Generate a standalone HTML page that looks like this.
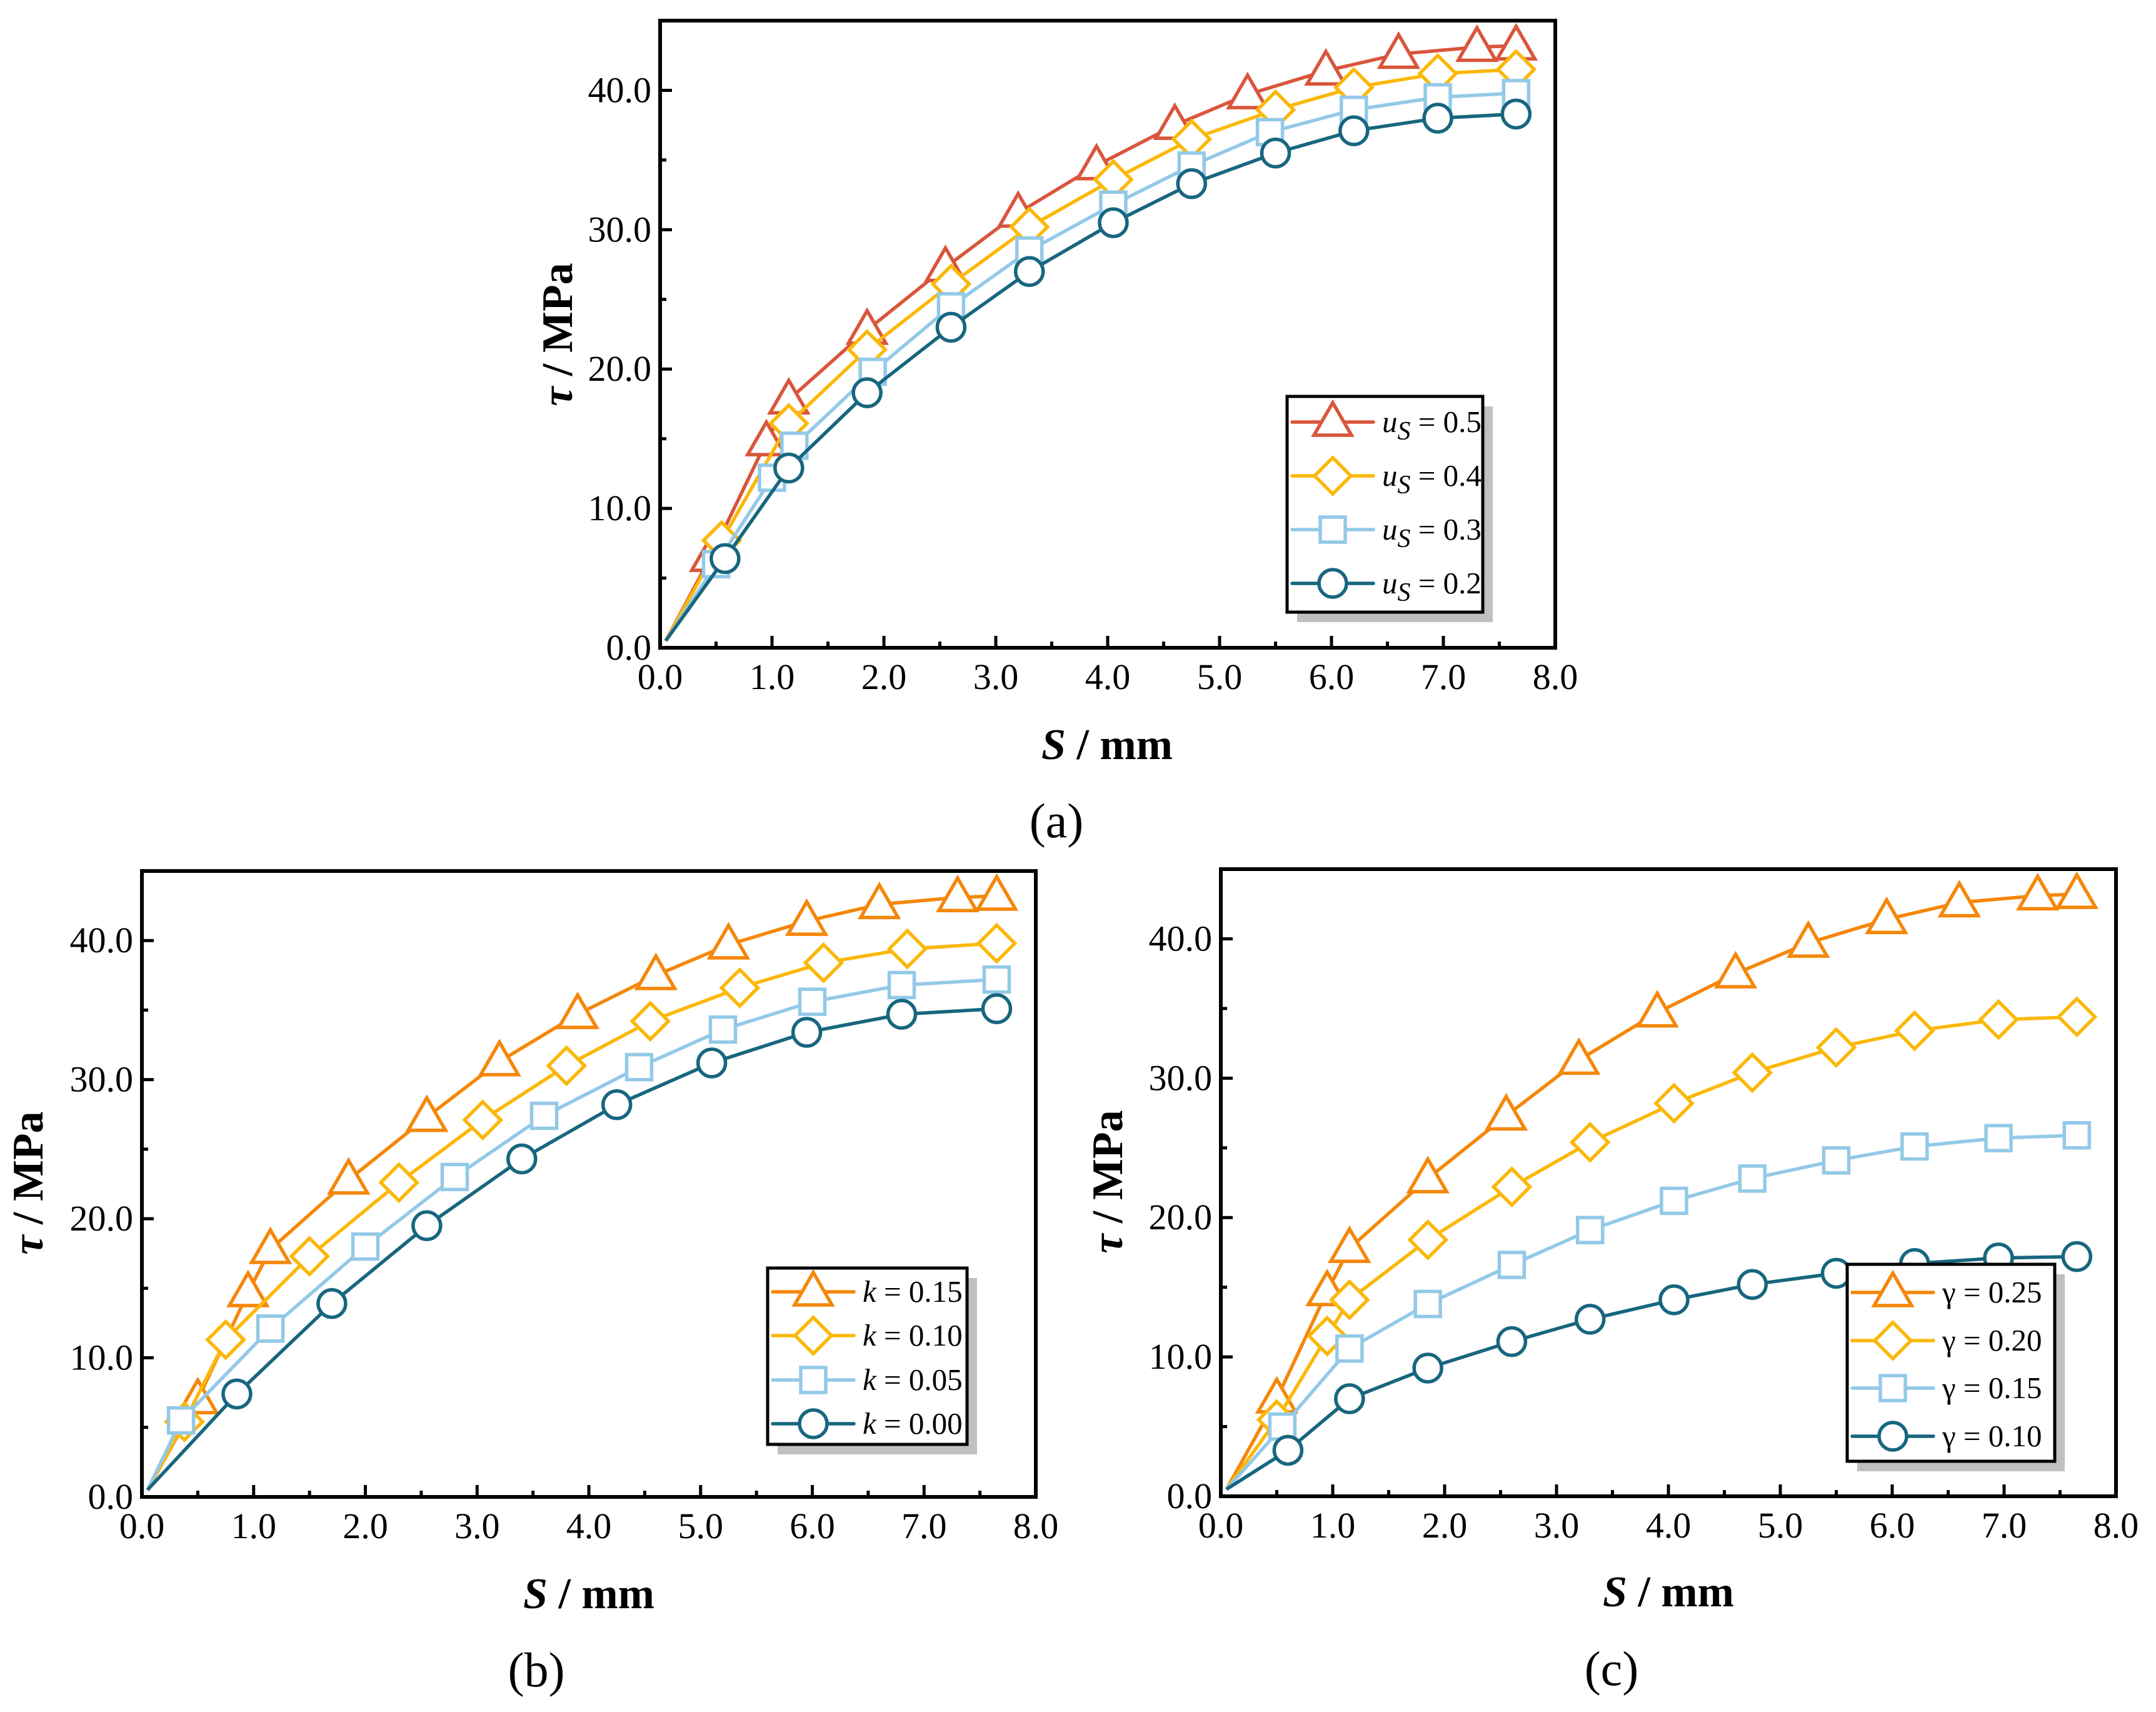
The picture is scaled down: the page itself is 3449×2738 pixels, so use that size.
<!DOCTYPE html>
<html><head><meta charset="utf-8"><style>
html,body{margin:0;padding:0;background:#fff}
svg{display:block}
text{font-family:"Liberation Serif","Times New Roman",serif}
</style></head><body>
<svg id="fig" width="3449" height="2738" viewBox="0 0 3449 2738" xmlns="http://www.w3.org/2000/svg"></svg>
<script>
// ---- data (a) ----
const aX1=[0.05,0.45,0.95,1.15,1.85,2.55,3.2,3.9,4.6,5.25,5.95,6.6,7.3,7.65];
const aY1=[0.5,6.5,14.8,17.8,22.8,27.3,31.2,34.6,37.5,39.7,41.4,42.6,43.1,43.2];
const aX2=[0.05,0.55,1.15,1.85,2.6,3.3,4.05,4.75,5.5,6.2,6.95,7.65];
const aY2=[0.5,7.7,16.1,21.4,26.1,30.2,33.6,36.5,38.6,40.2,41.2,41.5];
const aX3=[0.05,0.5,1.0,1.2,1.9,2.6,3.3,4.05,4.75,5.45,6.2,6.95,7.65];
const aY3=[0.5,6.0,12.2,14.5,19.8,24.5,28.5,31.8,34.6,37.0,38.6,39.5,39.8];
const aX4=[0.05,0.58,1.15,1.85,2.6,3.3,4.05,4.75,5.5,6.2,6.95,7.65];
const aY4=[0.5,6.4,12.9,18.3,23.0,27.0,30.5,33.3,35.5,37.1,38.0,38.3];
// ---- data (b) ----
const bX1=[0.05,0.5,0.95,1.15,1.85,2.55,3.2,3.9,4.6,5.25,5.95,6.6,7.3,7.65];
const bY1=[0.5,7.0,14.7,17.8,22.8,27.3,31.3,34.7,37.5,39.7,41.4,42.6,43.1,43.2];
const bX2=[0.05,0.38,0.75,1.5,2.3,3.05,3.8,4.55,5.35,6.1,6.85,7.65];
const bY2=[0.5,5.4,11.3,17.3,22.6,27.1,31.0,34.2,36.6,38.4,39.4,39.8];
const bX3=[0.05,0.35,1.15,2.0,2.8,3.6,4.45,5.2,6.0,6.8,7.65];
const bY3=[0.5,5.5,12.1,18.0,23.0,27.4,30.9,33.6,35.6,36.8,37.2];
const bX4=[0.05,0.85,1.7,2.55,3.4,4.25,5.1,5.95,6.8,7.65];
const bY4=[0.5,7.4,13.9,19.5,24.3,28.2,31.2,33.4,34.7,35.1];
// ---- data (c) ----
const cX1=[0.05,0.5,0.95,1.15,1.85,2.55,3.2,3.9,4.6,5.25,5.95,6.6,7.3,7.65];
const cY1=[0.5,7.0,14.7,17.8,22.8,27.3,31.3,34.7,37.5,39.7,41.4,42.6,43.1,43.2];
const cX2=[0.05,0.5,0.95,1.15,1.85,2.6,3.3,4.05,4.75,5.5,6.2,6.95,7.65];
const cY2=[0.5,5.5,11.5,14.1,18.4,22.2,25.4,28.2,30.4,32.2,33.4,34.2,34.4];
const cX3=[0.05,0.55,1.15,1.85,2.6,3.3,4.05,4.75,5.5,6.2,6.95,7.65];
const cY3=[0.5,5.0,10.6,13.8,16.6,19.1,21.2,22.8,24.1,25.1,25.7,25.9];
const cX4=[0.05,0.6,1.15,1.85,2.6,3.3,4.05,4.75,5.5,6.2,6.95,7.65];
const cY4=[0.5,3.3,7.0,9.2,11.1,12.7,14.1,15.2,16.0,16.7,17.1,17.2];
const xTicks=["0.0","1.0","2.0","3.0","4.0","5.0","6.0","7.0","8.0"];
const yTicks=["0.0","10.0","20.0","30.0","40.0"];
const aLegend=["0.5","0.4","0.3","0.2"];
const bLegend=["0.15","0.10","0.05","0.00"];
const cLegend=["0.25","0.20","0.15","0.10"];

const NS="http://www.w3.org/2000/svg";
const svg=document.getElementById('fig');
function mk(tag,attrs,parent){const e=document.createElementNS(NS,tag);for(const k in attrs)e.setAttribute(k,attrs[k]);(parent||svg).appendChild(e);return e;}
const SW=5.5;
function marker(g,type,cx,cy,col){
  let e;
  if(type==='tri'){e=mk('polygon',{points:`${cx},${cy-31} ${cx-30},${cy+21} ${cx+30},${cy+21}`,fill:'#fff',stroke:col,'stroke-width':SW},g);}
  else if(type==='dia'){e=mk('polygon',{points:`${cx},${cy-29} ${cx+29},${cy} ${cx},${cy+29} ${cx-29},${cy}`,fill:'#fff',stroke:col,'stroke-width':SW},g);}
  else if(type==='sq'){e=mk('rect',{x:cx-20,y:cy-20,width:40,height:40,fill:'#fff',stroke:col,'stroke-width':SW},g);}
  else {e=mk('circle',{cx:cx,cy:cy,r:22,fill:'#fff',stroke:col,'stroke-width':SW},g);}
  
  
}

function panel(P){
  const g=mk('g',{});
  
  
  const sx=v=>P.L+(P.R-P.L)*v/8, sy=v=>P.B-(P.B-P.T)*v/45;
  P.series.forEach((s,i)=>{
    const sg=mk('g',{},g);
    
    
    const pts=s.x.map((v,j)=>sx(v)+','+sy(s.y[j])).join(' ');
    const pl=mk('polyline',{points:pts,fill:'none',stroke:s.col,'stroke-width':SW,'stroke-linejoin':'round'},sg);
    
    
    s.x.forEach((v,j)=>{ if(j>0) marker(sg,s.m,sx(v),sy(s.y[j]),s.col); });
  });
  const fr=mk('rect',{x:P.L,y:P.T,width:P.R-P.L,height:P.B-P.T,fill:'none',stroke:'#000','stroke-width':6},g);
  
  
  for(let i=0;i<=16;i++){
    const v=i/2,x=sx(v),len=i%2?10:19;
    mk('line',{x1:x,y1:P.B,x2:x,y2:P.B-len,stroke:'#000','stroke-width':5},g);
  }
  xTicks.forEach((t,i)=>{
    const e=mk('text',{x:sx(i),y:P.B+66,'font-size':58,'text-anchor':'middle'},g);e.textContent=t;
    
    
  });
  for(let i=0;i<=9;i++){
    const v=i*5,y=sy(v),len=i%2?10:19;
    mk('line',{x1:P.L,y1:y,x2:P.L+len,y2:y,stroke:'#000','stroke-width':5},g);
  }
  yTicks.forEach((t,i)=>{
    const e=mk('text',{x:P.L-14,y:sy(i*10)+19,'font-size':58,'text-anchor':'end'},g);e.textContent=t;
    
    
  });
  const xt=mk('text',{x:P.xt[0],y:P.xt[1]+24,'font-size':70,'font-weight':'bold','text-anchor':'middle'},g);
  xt.innerHTML='<tspan font-style="italic">S</tspan> / mm';
  
  
  const yt=mk('text',{x:0,y:0,'font-size':70,'font-weight':'bold','text-anchor':'middle',transform:`translate(${P.yt[0]+24},${P.yt[1]}) rotate(-90)`},g);
  yt.innerHTML='<tspan font-style="italic">τ</tspan> / MPa';
  
  
  const pl=mk('text',{x:P.pl[0],y:P.pl[1]+26,'font-size':78,'text-anchor':'middle'},g);
  pl.textContent=P.tag;
  
  
  const lg=mk('g',{},g);
  
  
  const Lg=P.leg;
  mk('rect',{x:Lg.l+16,y:Lg.t+16,width:Lg.r-Lg.l,height:Lg.b-Lg.t,fill:'#c0c0c0'},lg);
  mk('rect',{x:Lg.l,y:Lg.t,width:Lg.r-Lg.l,height:Lg.b-Lg.t,fill:'#fff',stroke:'#000','stroke-width':5},lg);
  P.series.forEach((s,i)=>{
    const y=Lg.ys[i];
    const en=mk('g',{},lg);
    
    
    mk('line',{x1:Lg.l+8,y1:y,x2:Lg.l+138,y2:y,stroke:s.col,'stroke-width':SW,'stroke-linecap':'round'},en);
    marker(en,s.m,Lg.l+73,y,s.col);
    const t=mk('text',{x:Lg.l+152,y:y+16,'font-size':49},en);
    t.innerHTML=s.label;
  });
}
const RED='#d9553b',ORA='#f5870a',YEL='#fbb80a',LB='#93c9e8',DB='#17667f';
const us=v=>'<tspan font-style="italic">u</tspan><tspan font-style="italic" dy="12" font-size="42">S</tspan><tspan dy="-12"> = '+v+'</tspan>';
panel({name:'panel-a',tag:'(a)',L:1056,R:2488,T:33,B:1036,xt:[1771,1190],yt:[891,535],pl:[1690,1313],
  leg:{l:2059,r:2372,t:634,b:979,ys:[675,761,847,933]},
  series:[
    {x:aX1,y:aY1,col:RED,m:'tri',label:us(aLegend[0])},
    {x:aX2,y:aY2,col:YEL,m:'dia',label:us(aLegend[1])},
    {x:aX3,y:aY3,col:LB,m:'sq',label:us(aLegend[2])},
    {x:aX4,y:aY4,col:DB,m:'circ',label:us(aLegend[3])}]});
panel({name:'panel-b',tag:'(b)',L:227,R:1657,T:1393,B:2394,xt:[942,2548],yt:[44,1892],pl:[858,2671],
  leg:{l:1228,r:1547,t:2028,b:2310,ys:[2066,2136,2207,2277]},
  series:[
    {x:bX1,y:bY1,col:ORA,m:'tri',label:'<tspan font-style="italic">k</tspan> = '+bLegend[0]},
    {x:bX2,y:bY2,col:YEL,m:'dia',label:'<tspan font-style="italic">k</tspan> = '+bLegend[1]},
    {x:bX3,y:bY3,col:LB,m:'sq',label:'<tspan font-style="italic">k</tspan> = '+bLegend[2]},
    {x:bX4,y:bY4,col:DB,m:'circ',label:'<tspan font-style="italic">k</tspan> = '+bLegend[3]}]});
panel({name:'panel-c',tag:'(c)',L:1953,R:3385,T:1390,B:2393,xt:[2669,2545],yt:[1771,1890],pl:[2578,2669],
  leg:{l:2955,r:3287,t:2022,b:2337,ys:[2067,2144,2220,2297]},
  series:[
    {x:cX1,y:cY1,col:ORA,m:'tri',label:'γ = '+cLegend[0]},
    {x:cX2,y:cY2,col:YEL,m:'dia',label:'γ = '+cLegend[1]},
    {x:cX3,y:cY3,col:LB,m:'sq',label:'γ = '+cLegend[2]},
    {x:cX4,y:cY4,col:DB,m:'circ',label:'γ = '+cLegend[3]}]});
</script>
</body></html>
